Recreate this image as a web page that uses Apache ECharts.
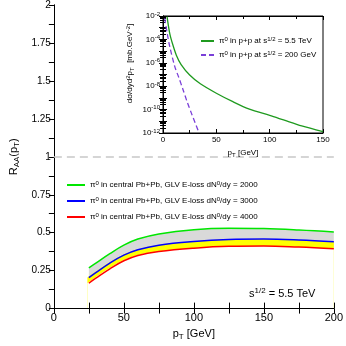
<!DOCTYPE html>
<html>
<head>
<meta charset="utf-8">
<script src="https://cdn.jsdelivr.net/npm/echarts@6/dist/echarts.min.js"></script>
<style>
html,body{margin:0;padding:0;background:#fff;}
#chart{width:346px;height:346px;}
</style>
</head>
<body>
<div id="chart"></div>
<script>
// main plot: R_AA vs pT
var pT = [25, 30, 40, 50, 60, 75, 100, 125, 150, 175, 200];
var raa2000 = [0.269, 0.30, 0.362, 0.418, 0.458, 0.492, 0.52, 0.529, 0.527, 0.518, 0.505];
var raa3000 = [0.204, 0.237, 0.30, 0.352, 0.388, 0.418, 0.442, 0.455, 0.458, 0.452, 0.44];
var raa4000 = [0.167, 0.20, 0.262, 0.315, 0.35, 0.376, 0.398, 0.41, 0.412, 0.405, 0.394];

// inset: p+p spectra
var pt55 = [3.8, 6.3, 9, 12.5, 17, 25, 35, 50, 65, 81, 100, 113, 130, 150];
var xs55 = [8.9e-3, 3.3e-4, 4e-5, 4.5e-6, 7e-7, 9e-8, 1.6e-8, 2.5e-9, 5e-10, 1.1e-10, 3.2e-11, 1.3e-11, 4e-12, 1.3e-12];
var pt200 = [1.6, 4, 6.3, 11, 15, 18.8, 22.5, 26.6, 30, 33.8];
var xs200 = [6.3e-3, 3e-4, 2.5e-5, 5e-7, 5e-8, 5e-9, 5e-10, 5e-11, 8e-12, 1e-12];

var FONT = 'Liberation Sans';

function pairs(xa, ya){
	var out = [];
	for(var i = 0; i < xa.length; i++){
		out.push([xa[i], ya[i]]);
	}
	return out;
}

var richTxt = {
	sup: {fontSize: 6, verticalAlign: 'top', lineHeight: 10, fontFamily: FONT, color: '#000'},
	sub: {fontSize: 6, verticalAlign: 'bottom', lineHeight: 10, fontFamily: FONT, color: '#000'}
};
var richBig = {
	sup: {fontSize: 8, verticalAlign: 'top', lineHeight: 14, fontFamily: FONT, color: '#000'},
	sub: {fontSize: 8, verticalAlign: 'bottom', lineHeight: 14, fontFamily: FONT, color: '#000'}
};

var chart = echarts.init(document.getElementById('chart'));

function tickAxis(extra){
	return Object.assign({
		axisLine: {lineStyle: {color: '#000'}},
		splitLine: {show: false}
	}, extra);
}

var option = {
	animation: false,
	textStyle: {fontFamily: FONT},
	grid: [
		{left: 42, top: 5, right: 10, bottom: 33},
		{left: 163, top: 16, right: 23, bottom: 213, show: true, backgroundColor: '#fff', borderColor: '#000', borderWidth: 1, z: 5}
	],
	legend: [
		{
			data: ['2000', '3000', '4000'],
			left: 61, top: 175, orient: 'vertical',
			itemWidth: 18, itemHeight: 8, itemGap: 7,
			itemStyle: {opacity: 0},
			formatter: function(n){ return '\u03c0{sup|0} in central Pb+Pb, GLV E-loss dN{sup|0}/dy = ' + n; },
			textStyle: {fontSize: 8, fontFamily: FONT, color: '#000', rich: richTxt}
		},
		{
			data: ['5.5 TeV', '200 GeV'],
			left: 195, top: 31, orient: 'vertical',
			itemWidth: 13, itemHeight: 8, itemGap: 5, z: 10,
			itemStyle: {opacity: 0},
			formatter: function(n){ return '\u03c0{sup|0} in p+p at s{sup|1/2} = ' + n; },
			textStyle: {fontSize: 8, fontFamily: FONT, color: '#000', rich: richTxt}
		}
	],
	graphic: [{
		type: 'text', left: 249, top: 287, z: 10,
		style: {text: 's{sup|1/2} = 5.5 TeV', font: '11px ' + FONT, fill: '#000', rich: richBig}
	}],
	xAxis: [
		tickAxis({
			gridIndex: 0, type: 'value', min: 0, max: 200, interval: 50, z: 3,
			name: 'p{sub|T} [GeV]', nameLocation: 'middle', nameGap: 17,
			nameTextStyle: {fontSize: 11, color: '#000', rich: richBig},
			axisTick: {inside: true, length: 6, lineStyle: {color: '#000'}},
			minorTick: {show: true, splitNumber: 2, length: 6, lineStyle: {color: '#000'}},
			axisLabel: {fontSize: 11, color: '#000', margin: 4}
		}),
		tickAxis({
			gridIndex: 0, type: 'value', min: 0, max: 200, interval: 50, position: 'top', z: 3,
			axisTick: {inside: true, length: 5, lineStyle: {color: '#000'}},
			minorTick: {show: true, splitNumber: 2, length: 5, lineStyle: {color: '#000'}},
			axisLabel: {show: false}
		}),
		tickAxis({
			gridIndex: 1, type: 'value', min: 0, max: 150, interval: 50, z: 6,
			name: 'p{sub|T} [GeV]', nameLocation: 'middle', nameGap: 15,
			nameTextStyle: {fontSize: 8, color: '#000', rich: richTxt},
			axisTick: {inside: true, length: 4, lineStyle: {color: '#000'}},
			minorTick: {show: true, splitNumber: 2, length: 3, lineStyle: {color: '#000'}},
			axisLabel: {fontSize: 8, color: '#000', margin: 3}
		}),
		tickAxis({
			gridIndex: 1, type: 'value', min: 0, max: 150, interval: 50, position: 'top', z: 6,
			axisTick: {inside: true, length: 4, lineStyle: {color: '#000'}},
			minorTick: {show: true, splitNumber: 2, length: 3, lineStyle: {color: '#000'}},
			axisLabel: {show: false}
		})
	],
	yAxis: [
		tickAxis({
			gridIndex: 0, type: 'value', min: 0, max: 2, interval: 0.25, z: 3,
			name: 'R{sub|AA}(p{sub|T})', nameLocation: 'middle', nameGap: 28,
			nameTextStyle: {fontSize: 11, color: '#000', rich: richBig},
			axisTick: {inside: false, length: 4, lineStyle: {color: '#000'}},
			minorTick: {show: true, splitNumber: 2, length: 3, lineStyle: {color: '#000'}},
			axisLabel: {fontSize: 10, color: '#000', margin: 3}
		}),
		tickAxis({
			gridIndex: 0, type: 'value', min: 0, max: 2, interval: 0.25, position: 'right', z: 3,
			axisTick: {inside: true, length: 5, lineStyle: {color: '#000'}},
			minorTick: {show: true, splitNumber: 2, length: 5, lineStyle: {color: '#000'}},
			axisLabel: {show: false}
		}),
		tickAxis({
			gridIndex: 1, type: 'log', min: 1e-12, max: 1e-2, logBase: 10, splitNumber: 10, z: 6,
			name: 'd\u03c3/dyd{sup|2}p{sub|T}  [mb.GeV{sup|-2}]', nameLocation: 'middle', nameGap: 28,
			nameTextStyle: {fontSize: 8, color: '#000', rich: richTxt, padding: [0, 0, 0, 22]},
			axisTick: {inside: true, length: 4, lineStyle: {color: '#000'}},
			minorTick: {show: true, splitNumber: 5, length: 3, lineStyle: {color: '#000'}},
			axisLabel: {
				fontSize: 8, color: '#000', margin: 3, rich: richTxt,
				formatter: function(v){
					var e = Math.round(Math.log(+v) / Math.LN10);
					return (Math.abs(e) % 2 === 0) ? '10{sup|' + e + '}' : '';
				}
			}
		}),
		tickAxis({
			gridIndex: 1, type: 'log', min: 1e-12, max: 1e-2, logBase: 10, splitNumber: 10, position: 'right', z: 6,
			axisTick: {inside: true, length: 4, lineStyle: {color: '#000'}},
			minorTick: {show: true, splitNumber: 5, length: 3, lineStyle: {color: '#000'}},
			axisLabel: {show: false}
		})
	],
	series: [
		{type: 'line', name: '2000', smooth: 0.4, symbol: 'none', data: pairs(pT, raa2000),
			lineStyle: {color: '#00e600', width: 1.5}, itemStyle: {color: '#00e600'},
			areaStyle: {color: '#d9d9d9', opacity: 1, origin: 'start'},
			markLine: {symbol: 'none', silent: true, label: {show: false}, lineStyle: {color: '#c8c8c8', type: [8, 5], width: 1.5}, data: [{yAxis: 1}]}},
		{type: 'line', name: '3000', smooth: 0.4, symbol: 'none', data: pairs(pT, raa3000),
			lineStyle: {color: '#0000ff', width: 1.5}, itemStyle: {color: '#0000ff'},
			areaStyle: {color: '#ffff00', opacity: 1, origin: 'start', shadowColor: '#ffff00', shadowBlur: 0, shadowOffsetX: -1.5}},
		{type: 'line', name: '4000', smooth: 0.4, symbol: 'none', data: pairs(pT, raa4000),
			lineStyle: {color: '#ff0000', width: 1.5}, itemStyle: {color: '#ff0000'},
			areaStyle: {color: '#ffffff', opacity: 1, origin: 'start', shadowColor: '#ffffff', shadowBlur: 0, shadowOffsetX: -1.5}},
		// inset
		{type: 'line', name: '5.5 TeV', xAxisIndex: 2, yAxisIndex: 2, smooth: 0.3, symbol: 'none', z: 6,
			data: pairs(pt55, xs55), lineStyle: {color: '#1f9a1f', width: 1.3}, itemStyle: {color: '#1f9a1f'}},
		{type: 'line', name: '200 GeV', xAxisIndex: 2, yAxisIndex: 2, smooth: 0.3, symbol: 'none', z: 6,
			data: pairs(pt200, xs200), lineStyle: {color: '#7a3fd8', width: 1.3, type: [5, 3]}, itemStyle: {color: '#7a3fd8'}}
	]
};

chart.setOption(option);

window.onresize = function(){
	chart.resize();
}
</script>
</body>
</html>
